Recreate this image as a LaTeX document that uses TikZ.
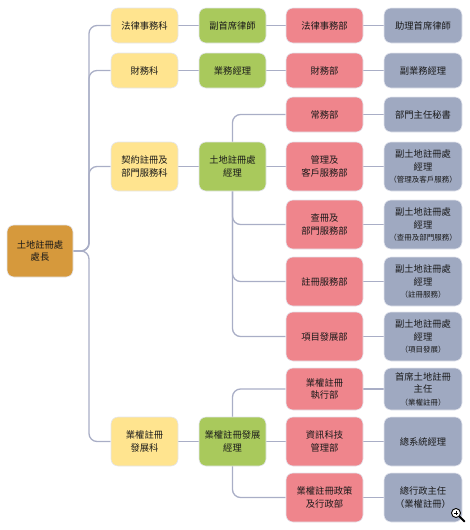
\documentclass[tikz,border=0pt]{standalone}
\usepackage{fontspec}
\newfontfamily\cjk{Noto Sans CJK TC}
\usetikzlibrary{backgrounds}
\definecolor{cyel}{HTML}{FFE48F}
\definecolor{cgrn}{HTML}{A9C95C}
\definecolor{cred}{HTML}{EF858C}
\definecolor{cgry}{HTML}{9FA9C1}
\definecolor{corg}{HTML}{D6993C}
\definecolor{cline}{HTML}{A9AEC6}
\definecolor{cedge}{HTML}{E4E6EE}
\tikzset{
  box/.style={rounded corners=7pt, inner sep=0pt, align=center, draw=cedge, line width=0.6pt,
    font=\cjk\fontsize{9.3}{12.5}\selectfont, text=black!90},
  c1/.style={box, fill=cyel, minimum width=67pt},
  c2/.style={box, fill=cgrn, minimum width=67pt},
  c3/.style={box, fill=cred, minimum width=77pt},
  c4/.style={box, fill=cgry, minimum width=78pt},
  hA/.style={minimum height=35pt},
  hB/.style={minimum height=49pt},
  hC/.style={minimum height=42pt},
  conn/.style={draw=cline, line width=1.3pt, rounded corners=8pt},
}
\newcommand{\smalltxt}[1]{{\fontsize{7.5}{9.5}\selectfont #1}}
\begin{document}
\begin{tikzpicture}[x=1pt,y=-1pt]
\useasboundingbox (0,0) rectangle (470,530);
% root
\node[box, fill=corg, minimum width=66pt, minimum height=52pt] (root) at (40,251) {土地註冊處\\處長};
% column 1
\node[c1,hA] (y1) at (144.5,25.5) {法律事務科};
\node[c1,hA] (y2) at (144.5,70.5) {財務科};
\node[c1,hB] (y3) at (144.5,166.5) {契約註冊及\\部門服務科};
\node[c1,hB] (y4) at (144.5,441.5) {業權註冊\\發展科};
% column 2
\node[c2,hA] (g1) at (232.5,25.5) {副首席律師};
\node[c2,hA] (g2) at (232.5,70.5) {業務經理};
\node[c2,hB] (g3) at (232.5,166.5) {土地註冊處\\經理};
\node[c2,hB] (g4) at (232.5,441.5) {業權註冊發展\\經理};
% column 3
\node[c3,hA] (r1) at (324.5,25.5) {法律事務部};
\node[c3,hA] (r2) at (324.5,70.5) {財務部};
\node[c3,hA] (r3) at (324.5,114.5) {常務部};
\node[c3,hB] (r4) at (324.5,166.5) {管理及\\客戶服務部};
\node[c3,hB] (r5) at (324.5,224.5) {查冊及\\部門服務部};
\node[c3,hB] (r6) at (324.5,281.5) {註冊服務部};
\node[c3,hB] (r7) at (324.5,336.5) {項目發展部};
\node[c3,hC] (r8) at (324.5,389) {業權註冊\\執行部};
\node[c3,hB] (r9) at (324.5,441.5) {資訊科技\\管理部};
\node[c3,hB] (r10) at (324.5,497.5) {業權註冊政策\\及行政部};
% column 4
\node[c4,hA] (b1) at (423,25.5) {助理首席律師};
\node[c4,hA] (b2) at (423,70.5) {副業務經理};
\node[c4,hA] (b3) at (423,114.5) {部門主任秘書};
\node[c4,hB] (b4) at (423,166.5) {副土地註冊處\\經理\\\smalltxt{（管理及客戶服務）}};
\node[c4,hB] (b5) at (423,224.5) {副土地註冊處\\經理\\\smalltxt{（查冊及部門服務）}};
\node[c4,hB] (b6) at (423,281.5) {副土地註冊處\\經理\\\smalltxt{（註冊服務）}};
\node[c4,hB] (b7) at (423,336.5) {副土地註冊處\\經理\\\smalltxt{（項目發展）}};
\node[c4,hC] (b8) at (423,389) {首席土地註冊\\主任\\\smalltxt{（業權註冊）}};
\node[c4,hB] (b9) at (423,441.5) {總系統經理};
\node[c4,hB] (b10) at (423,497.5) {總行政主任\\（業權註冊）};
% connectors
\coordinate (trunk) at (89,251);
\begin{scope}[on background layer]
  \foreach \k in {1,2,3,4} {\draw[conn] (root.east) -- (trunk) |- (y\k.west);}
  \foreach \k in {1,2,3,4} {\draw[conn] (y\k.east) -- (g\k.west);}
  \draw[conn] (g1.east) -- (r1.west);
  \draw[conn] (g2.east) -- (r2.west);
  \foreach \k in {3,5,6,7} {\draw[conn] (g3.center) |- (r\k.west);}
  \draw[conn] (g3.east) -- (r4.west);
  \foreach \k in {8,10} {\draw[conn] (g4.center) |- (r\k.west);}
  \draw[conn] (g4.east) -- (r9.west);
  \foreach \k in {1,2,3,4,5,6,7,8,9,10} {\draw[conn] (r\k.east) -- (b\k.west);}
\end{scope}
% magnifier icon
\draw[line width=2pt, line cap=round] (459.5,516.5) -- (464.5,521.5);
\draw[line width=0.9pt, fill=white] (456,513) circle (4.5);
\draw[line width=0.8pt] (456,510.6) -- (456,515.4) (453.6,513) -- (458.4,513);
\end{tikzpicture}
\end{document}
